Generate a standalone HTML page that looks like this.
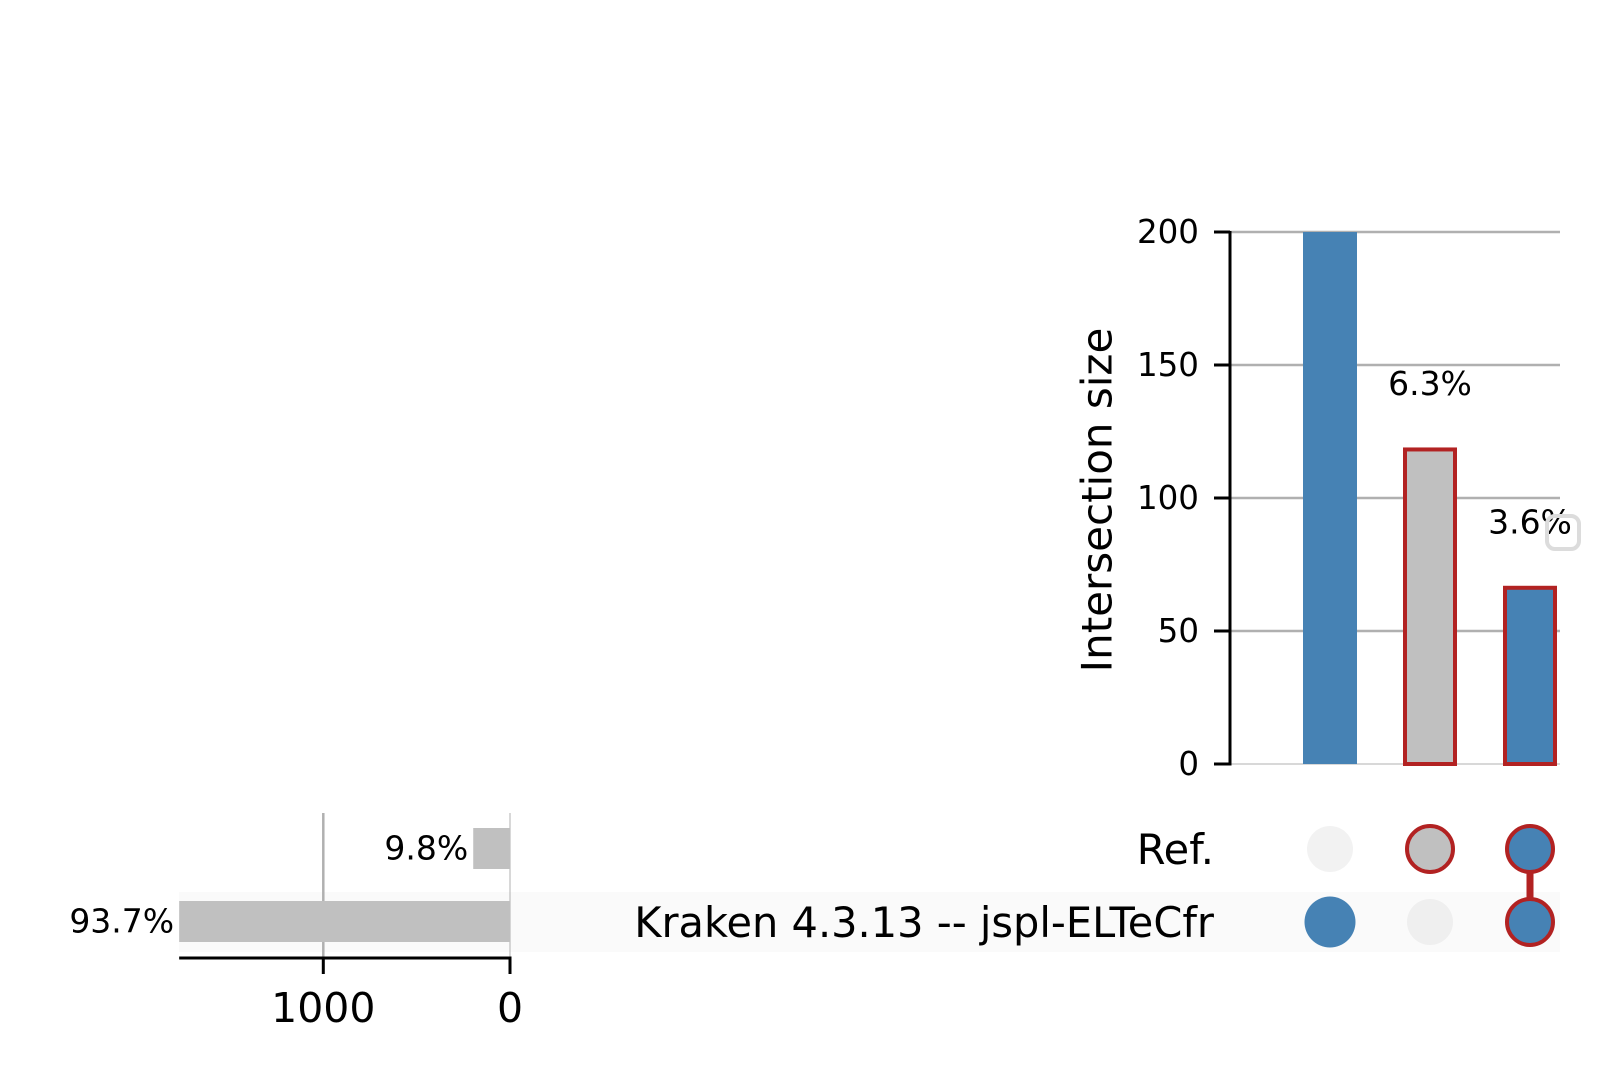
<!DOCTYPE html>
<html><head><meta charset="utf-8"><style>
html,body{margin:0;padding:0;background:#fff}
svg{display:block;font-family:"DejaVu Sans","Liberation Sans",sans-serif}
</style></head><body>
<svg id="chart" width="1599" height="1066" viewBox="0 0 1599 1066" xmlns="http://www.w3.org/2000/svg"></svg>
<script>
const intersectionValues = [1705, 119, 67];
const intersectionLabels = ["", "6.3%", "3.6%"];
const intersectionMembership = [[false, true], [true, false], [true, true]];
const intersectionHighlighted = [false, true, true];
const yTicks = [0, 50, 100, 150, 200];
const setNames = ["Ref.", "Kraken 4.3.13 -- jspl-ELTeCfr"];
const setSizes = [197, 1772];
const setLabels = ["9.8%", "93.7%"];
const setTicks = [0, 1000];

const NS = "http://www.w3.org/2000/svg";
const svg = document.getElementById("chart");
function mk(tag, attrs, parent) {
  const e = document.createElementNS(NS, tag);
  for (const k in attrs) e.setAttribute(k, attrs[k]);
  (parent || svg).appendChild(e);
  return e;
}
const BLUE = "#4682b4", RED = "#b22222", GREY = "#c0c0c0";
const axX = 1230, y0 = 764, y200 = 232, yMax = 200;
const yScale = v => y0 - Math.min(v, yMax) / yMax * (y0 - y200);
const colX = i => 1330 + i * 100;
const rowY = j => 849 + j * 73;
const sx0 = 510, sxScale = v => sx0 - v * 0.1867;

const stripe = mk("rect", {x: 179, y: 892, width: 1381, height: 60, fill: "#fafafa"});



yTicks.forEach(t => {
  const y = yScale(t);
  if (t > 0) {
    const g = mk("line", {x1: axX, x2: 1560, y1: y, y2: y, stroke: "#b0b0b0", "stroke-width": 2.5});
    
    
  }
  const tk = mk("line", {x1: axX - 16, x2: axX, y1: y, y2: y, stroke: "#000", "stroke-width": 3});
  
  
  const lb = mk("text", {x: axX - 31, y: y, "text-anchor": "end", "dominant-baseline": "central", "font-size": 32.5, fill: "#000"});
  lb.textContent = t;
  
  
});
const bl = mk("line", {x1: axX, x2: 1560, y1: y0, y2: y0, stroke: "#b0b0b0", "stroke-width": 1});


const ax = mk("line", {x1: axX, x2: axX, y1: y200 - 1, y2: y0 + 1.5, stroke: "#000", "stroke-width": 3});


const yt = mk("text", {x: 0, y: 0, transform: "translate(1097,500) rotate(-90)", "text-anchor": "middle", "dominant-baseline": "central", "font-size": 42});
yt.textContent = "Intersection size";



intersectionValues.forEach((v, i) => {
  const top = yScale(v), hl = intersectionHighlighted[i];
  const fill = intersectionMembership[i][1] ? BLUE : GREY;
  const r = hl ? mk("rect", {x: colX(i) - 25, y: top + 2, width: 50, height: y0 - top - 2, fill: fill, stroke: RED, "stroke-width": 4})
               : mk("rect", {x: colX(i) - 27, y: top, width: 54, height: y0 - top, fill: fill});
  
  
  if (intersectionLabels[i]) {
    const t = mk("text", {x: colX(i), y: top - 64, "text-anchor": "middle", "dominant-baseline": "central", "font-size": 33});
    t.textContent = intersectionLabels[i];
    
    
  }
});
const badge = mk("rect", {x: 1547, y: 516, width: 32, height: 33, rx: 8, fill: "none", stroke: "#dcdcdc", "stroke-width": 4});



setTicks.forEach(t => {
  const x = sxScale(t);
  const g = mk("line", {x1: x, x2: x, y1: 813, y2: 958, stroke: "#b0b0b0", "stroke-width": t ? 2.5 : 1});
  
  
});
setSizes.forEach((v, j) => {
  const cy = rowY(j) - 1;
  const r = mk("rect", {x: sxScale(v), y: cy - 20, width: sx0 - sxScale(v), height: 41, fill: GREY});
  
  
  const t = mk("text", {x: sxScale(v) - 5, y: cy, "text-anchor": "end", "dominant-baseline": "central", "font-size": 33});
  t.textContent = setLabels[j];
  
  
  const n = mk("text", {x: 1214, y: rowY(j) + 15, "text-anchor": "end", "font-size": 41.5});
  n.textContent = setNames[j];
  
  
});
setTicks.forEach(t => {
  const x = sxScale(t);
  const tk = mk("line", {x1: x, x2: x, y1: 958, y2: 974, stroke: "#000", "stroke-width": 3});
  
  
  const lb = mk("text", {x: x, y: 1022, "text-anchor": "middle", "font-size": 41});
  lb.textContent = t;
  
  
});
const sax = mk("line", {x1: sxScale(setSizes[1]), x2: sx0 + 1.5, y1: 958, y2: 958, stroke: "#000", "stroke-width": 3});



intersectionMembership.forEach((mem, i) => {
  const act = [];
  mem.forEach((m, j) => { if (m) act.push(j); });
  if (act.length > 1) {
    const ln = mk("line", {x1: colX(i), x2: colX(i), y1: rowY(act[0]), y2: rowY(act[act.length - 1]), stroke: RED, "stroke-width": 7});
    
    
  }
  mem.forEach((m, j) => {
    let c;
    if (!m) c = mk("circle", {cx: colX(i), cy: rowY(j), r: 23, fill: j ? "#efefef" : "#f2f2f2"});
    else if (intersectionHighlighted[i]) c = mk("circle", {cx: colX(i), cy: rowY(j), r: 23, fill: mem[1] ? BLUE : GREY, stroke: RED, "stroke-width": 4});
    else c = mk("circle", {cx: colX(i), cy: rowY(j), r: 25.5, fill: BLUE});
    
    
  });
});
</script>
</body></html>
